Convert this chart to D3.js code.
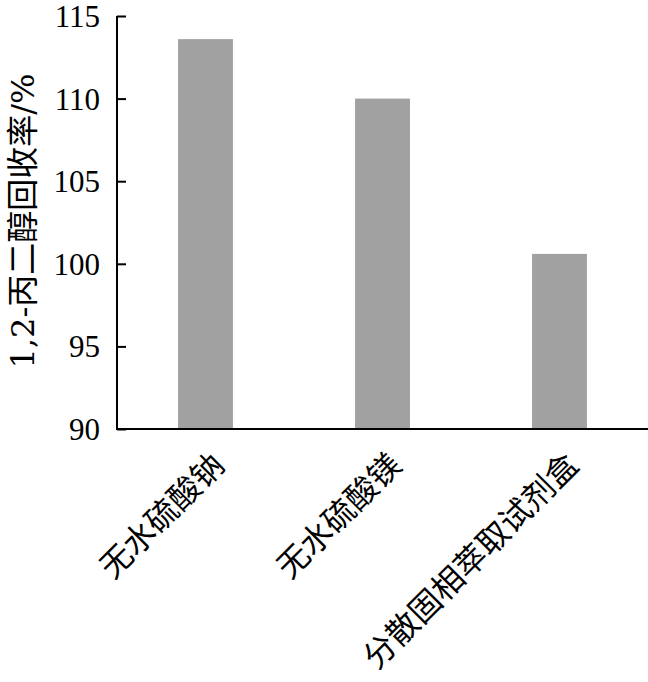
<!DOCTYPE html>
<html>
<head>
<meta charset="utf-8">
<script src="https://cdn.jsdelivr.net/npm/d3@7"></script>
<style>
  body { margin: 0; background: #fff; }
  svg text { font-family: "DejaVu Serif", "Noto Sans CJK SC", serif; fill: #000; }
  svg text.latin { font-family: "Liberation Serif", "Noto Sans CJK SC", serif; }
</style>
</head>
<body>
<svg id="chart" width="648" height="682"></svg>
<script>
const categories = ["无水硫酸钠", "无水硫酸镁", "分散固相萃取试剂盒"];
const recovery = [113.6, 110.0, 100.6];
const yTicks = [90, 95, 100, 105, 110, 115];
const yTitle = "1,2-丙二醇回收率/%";

const svg = d3.select("#chart");
const plotLeft = 117, plotRight = 648, plotTop = 16, plotBottom = 429;

const x = d3.scaleBand().domain(categories).range([plotLeft, plotRight]).paddingInner(0.69).paddingOuter(0.345);
const y = d3.scaleLinear().domain([90, 115]).range([plotBottom, plotTop]);

// bars
svg.selectAll(".bar").data(categories).enter().append("rect")
  .attr("class", "bar")
  .attr("x", d => x(d))
  .attr("width", x.bandwidth())
  .attr("y", (d, i) => y(recovery[i]))
  .attr("height", (d, i) => y(90) - y(recovery[i]))
  .attr("fill", "#a1a1a1");

// y axis, ticks pointing inward
const yAxis = d3.axisRight(y).tickValues(yTicks).tickSize(9).tickFormat(d3.format("d"));
const gy = svg.append("g").attr("transform", `translate(${plotLeft},0)`).call(yAxis)
  .attr("font-family", null);
gy.select(".domain").attr("d", `M0,${plotTop}V${plotBottom}`).attr("stroke", "#000").attr("stroke-width", 2);
gy.selectAll(".tick line").attr("stroke", "#000").attr("stroke-width", 2);
gy.selectAll(".tick text")
  .attr("class", "latin")
  .attr("x", -17).attr("dy", "0.34em")
  .attr("text-anchor", "end")
  .style("font-size", "31px");

// x axis line
svg.append("line")
  .attr("x1", plotLeft - 1).attr("x2", plotRight)
  .attr("y1", plotBottom).attr("y2", plotBottom)
  .attr("stroke", "#000").attr("stroke-width", 2);

// rotated category labels
svg.selectAll(".xlab").data(categories).enter().append("text")
  .attr("class", "xlab")
  .attr("transform", d => `translate(${x(d) + x.bandwidth() / 2 + 21},${plotBottom + 38}) rotate(-45)`)
  .attr("text-anchor", "end")
  .style("font-size", "32px")
  .text(d => d);

// y title
svg.append("text")
  .attr("transform", `translate(34,221) rotate(-90)`)
  .attr("text-anchor", "middle")
  .style("font-size", "32px")
  .text(yTitle);
</script>
</body>
</html>
